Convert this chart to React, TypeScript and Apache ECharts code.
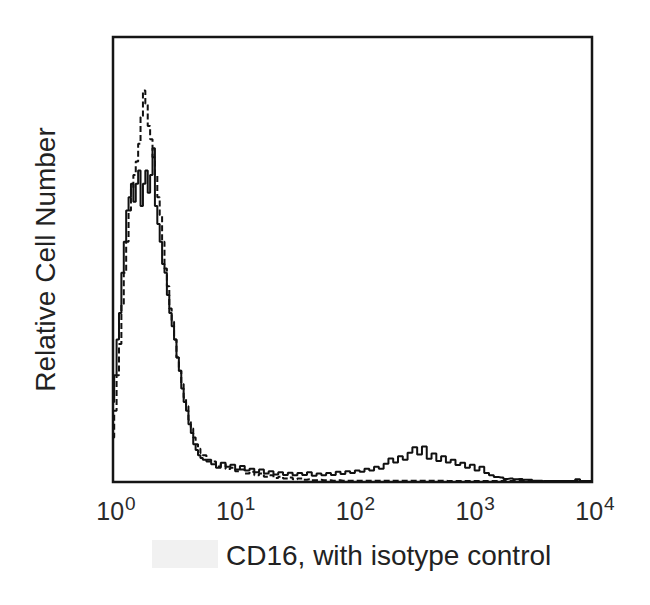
import React, { useEffect, useRef } from "react";
import * as echarts from "echarts";

// log10 of fluorescence intensity (channel centres)
const logFluor = [
  0.0, 0.02, 0.04, 0.06, 0.08, 0.1, 0.12, 0.14, 0.16, 0.18,
  0.2, 0.22, 0.24, 0.26, 0.28, 0.3, 0.32, 0.34, 0.36, 0.38,
  0.4, 0.42, 0.44, 0.46, 0.48, 0.5, 0.52, 0.54, 0.56, 0.58,
  0.6, 0.62, 0.64, 0.66, 0.68, 0.7, 0.72, 0.74, 0.76,
  0.8, 0.84, 0.88, 0.92, 0.96, 1.0, 1.04, 1.08, 1.12, 1.16,
  1.2, 1.24, 1.28, 1.32, 1.36, 1.4, 1.44, 1.48, 1.52, 1.56,
  1.6, 1.64, 1.68, 1.72, 1.76, 1.8, 1.84, 1.88, 1.92, 1.96,
  2.0, 2.04, 2.08, 2.12, 2.16, 2.2, 2.24, 2.28, 2.32, 2.36,
  2.4, 2.44, 2.48, 2.52, 2.56, 2.6, 2.64, 2.68, 2.72, 2.76,
  2.8, 2.84, 2.88, 2.92, 2.96, 3.0, 3.04, 3.08, 3.12, 3.16,
  3.2, 3.24, 3.28, 3.32, 3.36, 3.4, 3.44, 3.48, 3.52, 3.56,
  3.6, 3.64, 3.68, 3.72, 3.76, 3.8, 3.84, 3.88, 3.92, 3.96,
  4.0,
];

// CD16 staining (solid)
const cd16Counts = [
  18, 24, 32, 38, 47, 54, 61, 64, 67, 63,
  67, 70, 62, 67, 70, 65, 69, 75, 62, 58,
  54, 49, 47, 42, 38, 35, 32, 28, 25, 21,
  18, 16, 13, 11, 8.5, 7.2, 6, 5.4, 5.0,
  4.6, 4.0, 3.2, 4.3, 3.4, 3.9, 2.8, 3.6, 2.6, 3.0,
  2.2, 2.8, 1.9, 2.4, 1.7, 2.2, 1.6, 2.1, 1.5, 2.0,
  1.6, 2.2, 1.4, 1.9, 1.5, 2.0, 1.6, 2.3, 1.8, 2.4,
  2.0, 2.6, 2.3, 3.0, 2.6, 3.4, 3.0, 4.1, 5.3, 4.4,
  5.8, 5.0, 6.6, 7.8, 6.2, 8.0, 5.2, 6.4, 4.7, 5.8,
  4.4, 5.0, 3.8, 4.3, 3.2, 3.9, 2.6, 3.4, 2.0, 1.5,
  1.1, 1.0, 0.7, 0.8, 0.6, 0.7, 0.5, 0.5, 0.3, 0.3,
  0.2, 0.2, 0.2, 0.2, 0.2, 0.2, 0.2, 0.6, 0.2, 0.2,
  0.2,
];

// isotype control (dashed)
const isotypeCounts = [
  10, 16, 24, 31, 40, 47, 54, 61, 66, 69,
  72, 76, 82, 88, 85, 80, 77, 73, 69, 64,
  60, 54, 48, 44, 39, 36, 32, 28, 25, 22,
  19, 17, 14, 12, 10, 8.5, 7.5, 6.5, 6,
  5.0, 4.6, 3.5, 4.0, 2.9, 3.2, 2.4, 2.8, 1.9, 2.3,
  1.5, 1.9, 1.2, 1.5, 0.9, 1.2, 0.8, 1.0, 0.6, 0.8,
  0.5, 0.6, 0.4, 0.5, 0.4, 0.4, 0.3, 0.4, 0.3, 0.3,
  0.3, 0.3, 0.3, 0.3, 0.3, 0.3, 0.3, 0.3, 0.3, 0.3,
  0.3, 0.3, 0.3, 0.3, 0.3, 0.3, 0.3, 0.3, 0.3, 0.3,
  0.2, 0.2, 0.2, 0.2, 0.2, 0.2, 0.2, 0.2, 0.2, 0.2,
  0.2, 0.2, 0.2, 0.2, 0.2, 0.2, 0.2, 0.2, 0.2, 0.2,
  0.2, 0.2, 0.2, 0.2, 0.2, 0.2, 0.2, 0.2, 0.2, 0.2,
  0.2,
];

const decadeExponents = [0, 1, 2, 3, 4];
const xTitle = "CD16, with isotype control";
const yTitle = "Relative Cell Number";

const FONT = "'Liberation Sans', Arial, Helvetica, sans-serif";

export default function App() {
  const ref = useRef<HTMLDivElement>(null);

  useEffect(() => {
    if (!ref.current) return;
    const chart = echarts.init(ref.current, null, { renderer: "svg" });
    const solid = logFluor.map((x, i) => [x, cd16Counts[i]]);
    const dashed = logFluor.map((x, i) => [x, isotypeCounts[i]]);
    chart.setOption({
      animation: false,
      backgroundColor: "#ffffff",
      grid: {
        left: 113,
        right: 58,
        top: 37,
        bottom: 123,
        show: true,
        borderColor: "#151515",
        borderWidth: 2.5,
        backgroundColor: "transparent",
      },
      xAxis: {
        type: "value",
        min: 0,
        max: 4,
        interval: 1,
        axisLine: { show: false },
        axisTick: { show: false },
        splitLine: { show: false },
        axisLabel: {
          margin: 12,
          formatter: (v: number) =>
            decadeExponents.includes(v) ? `{b|10}{s|${v}}` : "",
          rich: {
            b: {
              fontSize: 25,
              fontFamily: FONT,
              color: "#2a2a2a",
              padding: [0, 0, 0, 6],
            },
            s: {
              fontSize: 19,
              fontFamily: FONT,
              color: "#2a2a2a",
              padding: [0, 0, 14, 1],
            },
          },
        },
      },
      yAxis: {
        type: "value",
        min: 0,
        max: 100,
        axisLine: { show: false },
        axisTick: { show: false },
        splitLine: { show: false },
        axisLabel: { show: false },
        name: yTitle,
        nameLocation: "middle",
        nameGap: 54,
        nameTextStyle: { fontSize: 28, fontFamily: FONT, color: "#222" },
      },
      series: [
        {
          name: "isotype control",
          type: "line",
          data: dashed,
          step: "middle",
          showSymbol: false,
          symbol: "none",
          lineStyle: { color: "#111", width: 2, type: [6, 3] },
          z: 2,
        },
        {
          name: "CD16",
          type: "line",
          data: solid,
          step: "middle",
          showSymbol: false,
          symbol: "none",
          lineStyle: { color: "#111", width: 2 },
          z: 3,
        },
      ],
      graphic: [
        {
          type: "rect",
          shape: { x: 152, y: 540, width: 66, height: 28 },
          style: { fill: "#f1f1f1" },
          silent: true,
        },
        {
          type: "text",
          x: 226,
          y: 555,
          style: {
            text: xTitle,
            fontSize: 28,
            fontFamily: FONT,
            fill: "#222",
            verticalAlign: "middle",
            align: "left",
          },
          silent: true,
        },
      ],
    });
    return () => chart.dispose();
  }, []);

  return (
    <div
      ref={ref}
      style={{
        position: "absolute",
        left: 0,
        top: 0,
        width: 650,
        height: 605,
        background: "#fff",
      }}
    />
  );
}
